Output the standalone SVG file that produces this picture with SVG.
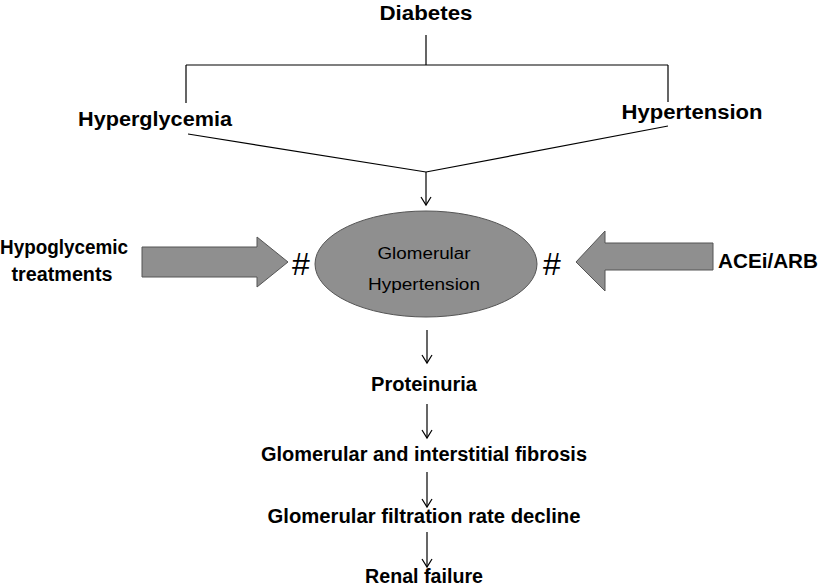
<svg xmlns="http://www.w3.org/2000/svg" width="825" height="587" viewBox="0 0 825 587">
<style>
text{font-family:"Liberation Sans",Arial,sans-serif;font-weight:bold;fill:#000;text-anchor:middle}
.t{font-size:20px}
.s{font-size:16px;font-weight:normal}
.h{font-size:32px;font-weight:normal}
.ln{stroke:#000;stroke-width:1.2;fill:none}
.shape{fill:#8f8f8f;stroke:#555;stroke-width:1}
</style>
<defs>
<marker id="v" markerWidth="12" markerHeight="12" refX="10" refY="6" orient="auto" markerUnits="userSpaceOnUse" viewBox="0 0 12 12">
<polyline points="2,1 10,6 2,11" fill="none" stroke="#000" stroke-width="1.2"/>
</marker>
</defs>
<rect width="825" height="587" fill="#fff"/>
<g id="connectors">
<path class="ln" d="M426,35 V65 M186,65 H668 M186,65 V103 M668,65 V102"/>
<path class="ln" d="M188,134 L426,172 M668,126 L426,172"/>
<line class="ln" x1="426" y1="172" x2="426" y2="205" marker-end="url(#v)"/>
<line class="ln" x1="427" y1="330" x2="427" y2="363" marker-end="url(#v)"/>
<line class="ln" x1="427" y1="404" x2="427" y2="438" marker-end="url(#v)"/>
<line class="ln" x1="427" y1="472" x2="427" y2="507" marker-end="url(#v)"/>
<line class="ln" x1="427" y1="532" x2="427" y2="567" marker-end="url(#v)"/>
</g>
<g id="diabetes"><text class="t" x="426" y="20" textLength="93" lengthAdjust="spacingAndGlyphs">Diabetes</text></g>
<g id="hyperglycemia"><text class="t" x="155" y="126" textLength="154" lengthAdjust="spacingAndGlyphs">Hyperglycemia</text></g>
<g id="hypertension"><text class="t" x="692" y="119" textLength="141" lengthAdjust="spacingAndGlyphs">Hypertension</text></g>
<g id="glomerular-hypertension">
<ellipse class="shape" cx="426" cy="264" rx="111" ry="53"/>
<text class="s" x="424" y="259" textLength="93" lengthAdjust="spacingAndGlyphs">Glomerular</text>
<text class="s" x="424" y="290" textLength="112" lengthAdjust="spacingAndGlyphs">Hypertension</text>
</g>
<g id="hypoglycemic-treatments">
<text class="t" x="64" y="254" textLength="128" lengthAdjust="spacingAndGlyphs">Hypoglycemic</text>
<text class="t" x="62" y="281" textLength="101" lengthAdjust="spacingAndGlyphs">treatments</text>
</g>
<g id="left-arrow">
<polygon class="shape" points="142,247 257,247 257,237 288,262 257,287 257,277 142,277"/>
<text class="h" x="301" y="275">#</text>
</g>
<g id="right-arrow">
<polygon class="shape" points="713,243 605,243 605,231 576,262 605,291 605,270 713,270"/>
<text class="h" x="552" y="275">#</text>
</g>
<g id="acei-arb"><text class="t" x="768" y="268" textLength="100" lengthAdjust="spacingAndGlyphs">ACEi/ARB</text></g>
<g id="proteinuria"><text class="t" x="424" y="391" textLength="106" lengthAdjust="spacingAndGlyphs">Proteinuria</text></g>
<g id="fibrosis"><text class="t" x="424" y="461" textLength="326" lengthAdjust="spacingAndGlyphs">Glomerular and interstitial fibrosis</text></g>
<g id="gfr-decline"><text class="t" x="424" y="523" textLength="313" lengthAdjust="spacingAndGlyphs">Glomerular filtration rate decline</text></g>
<g id="renal-failure"><text class="t" x="424" y="583" textLength="118" lengthAdjust="spacingAndGlyphs">Renal failure</text></g>
</svg>
